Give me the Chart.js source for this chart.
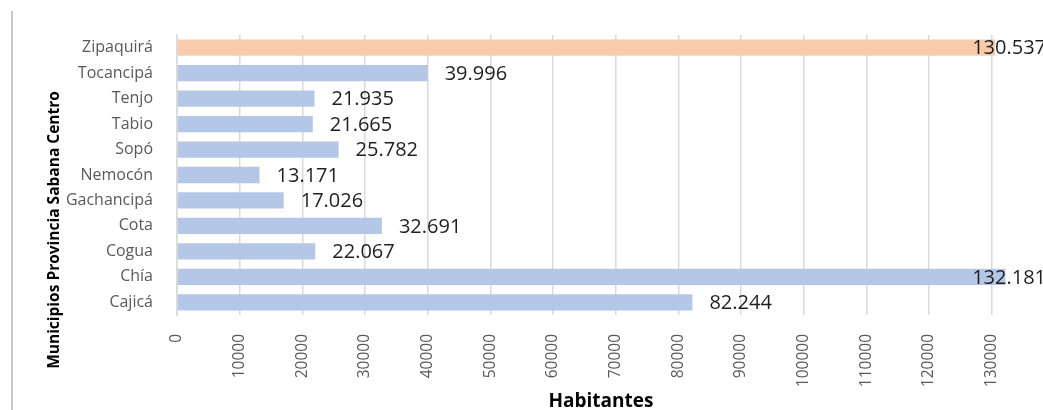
<!DOCTYPE html>
<html>
<head>
<meta charset="utf-8">
<script src="https://cdn.jsdelivr.net/npm/chart.js@4.4.1/dist/chart.umd.min.js"></script>
<style>
  html, body { margin: 0; padding: 0; background: #fff; overflow: hidden; }
  #wrap { width: 1043px; height: 410px; overflow: hidden; }
</style>
</head>
<body>
<div id="wrap"><canvas id="myChart" width="1092" height="410"></canvas></div>
<script>
const municipios = ['Cajicá', 'Chía', 'Cogua', 'Cota', 'Gachancipá', 'Nemocón', 'Sopó', 'Tabio', 'Tenjo', 'Tocancipá', 'Zipaquirá'];
const habitantes = [82244, 132181, 22067, 32691, 17026, 13171, 25782, 21665, 21935, 39996, 130537];
const xTicks = [0, 10000, 20000, 30000, 40000, 50000, 60000, 70000, 80000, 90000, 100000, 110000, 120000, 130000, 140000];
const destacado = 'Zipaquirá';

Chart.defaults.font.family = "'Open Sans', sans-serif";

function formato(n) {
  return String(n).replace(/\B(?=(\d{3})+(?!\d))/g, '.');
}

// etiquetas de valor, el titulo de los ejes y la linea gris de la izquierda
const extras = {
  id: 'extras',
  beforeDraw(chart) {
    const c = chart.ctx;
    c.save();
    c.strokeStyle = '#c8c8c8';
    c.lineWidth = 2;
    c.beginPath();
    c.moveTo(12, 11);
    c.lineTo(12, 410);
    c.stroke();
    c.restore();
  },
  afterDatasetsDraw(chart) {
    const c = chart.ctx;
    const meta = chart.getDatasetMeta(0);
    c.save();
    c.font = "20px 'Open Sans'";
    c.fillStyle = '#1f1f1f';
    c.textBaseline = 'middle';
    meta.data.forEach(function (bar, i) {
      const txt = formato(habitantes[i]);
      const w = c.measureText(txt).width;
      let x = bar.x + 17;
      if (x + w > 1046) x = 1046 - w;
      c.fillText(txt, x, bar.y + 1);
    });

    c.fillStyle = '#000';
    c.font = "bold 19px 'Open Sans'";
    c.textAlign = 'center';
    c.textBaseline = 'alphabetic';
    c.fillText('Habitantes', 601, 407);

    c.font = "bold 15.5px 'Open Sans'";
    c.translate(59, 230);
    c.rotate(-Math.PI / 2);
    c.fillText('Municipios Provincia Sabana Centro', 0, 0);
    c.restore();
  }
};

new Chart(document.getElementById('myChart'), {
  type: 'bar',
  data: {
    labels: municipios,
    datasets: [{
      data: habitantes,
      backgroundColor: ctx => municipios[ctx.dataIndex] === destacado ? '#f8cbad' : '#b4c7e7',
      barPercentage: 0.64,
      categoryPercentage: 1
    }]
  },
  options: {
    indexAxis: 'y',
    responsive: false,
    animation: false,
    layout: { padding: { top: 35, left: 0, right: 0, bottom: 0 } },
    plugins: { legend: { display: false }, tooltip: { enabled: false } },
    scales: {
      x: {
        min: 0,
        max: 140000,
        afterBuildTicks: scale => { scale.ticks = xTicks.map(v => ({ value: v })); },
        afterFit: scale => { scale.height = 95; },
        grid: { color: '#d9d9d9', lineWidth: 1.5, drawTicks: false },
        border: { display: false },
        ticks: {
          minRotation: 90,
          maxRotation: 90,
          padding: 19,
          color: '#595959',
          font: { size: 15.5 },
          callback: v => String(v)
        }
      },
      y: {
        reverse: true,
        afterFit: scale => { scale.width = 177; },
        grid: { display: false },
        border: { display: true, color: '#d9d9d9', width: 1.5 },
        ticks: { color: '#595959', font: { size: 16 }, padding: 16 }
      }
    }
  },
  plugins: [extras]
});
</script>
</body>
</html>
